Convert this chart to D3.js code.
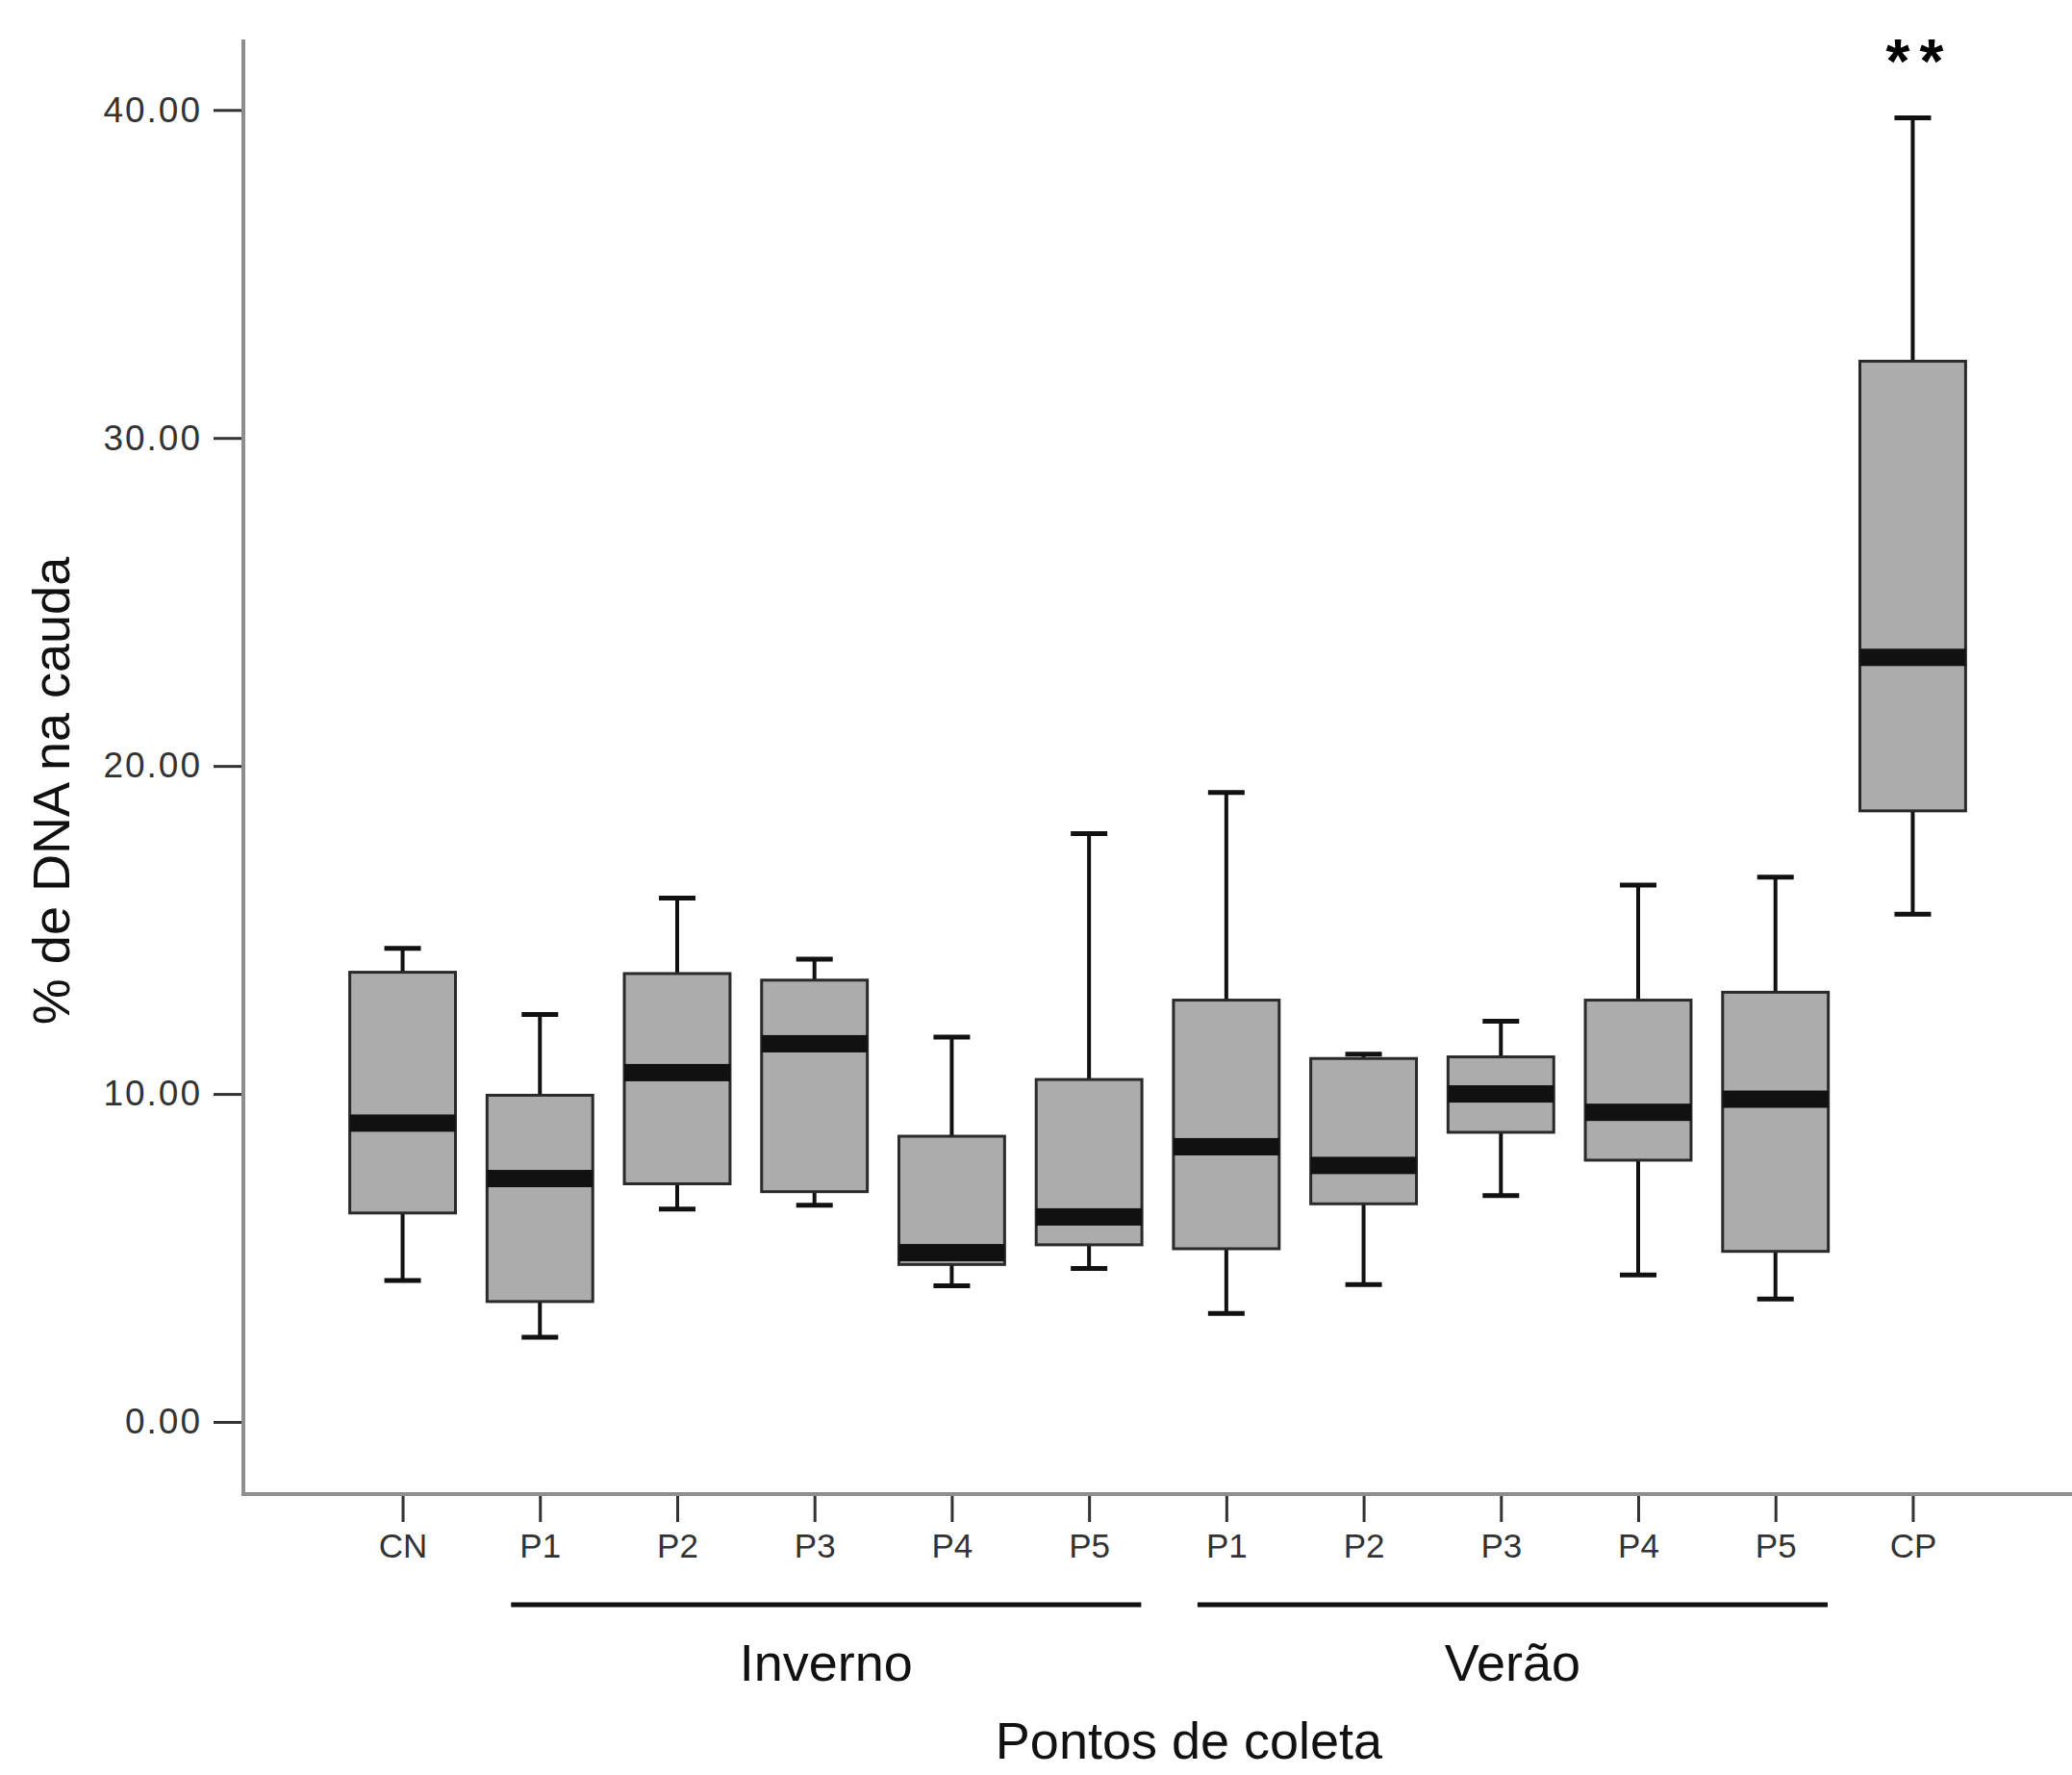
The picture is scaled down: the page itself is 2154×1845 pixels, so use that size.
<!DOCTYPE html>
<html>
<head>
<meta charset="utf-8">
<script src="https://cdn.jsdelivr.net/npm/d3@7"></script>
<style>
    body { margin: 0; background: #fff; }
    text { font-family: "Liberation Sans", Arial, sans-serif; }
</style>
</head>
<body>
<div id="box-chart"></div>
<script>

// categories (tick labels) and box plot statistics
const categories = ["CN", "P1", "P2", "P3", "P4", "P5", "P1", "P2", "P3", "P4", "P5", "CP"];
const whiskerLow  = [4.31, 2.58, 6.49, 6.61, 4.15, 4.68, 3.31, 4.19, 6.90, 4.48, 3.75, 15.48];
const q1          = [6.37, 3.67, 7.26, 7.02, 4.80, 5.40, 5.28, 6.65, 8.83, 7.98, 5.20, 18.63];
const medians     = [9.11, 7.42, 10.65, 11.53, 5.16, 6.25, 8.39, 7.82, 10.00, 9.44, 9.84, 23.31];
const q3          = [13.71, 9.96, 13.67, 13.47, 8.71, 10.44, 12.86, 11.08, 11.13, 12.86, 13.10, 32.34];
const whiskerHigh = [14.44, 12.42, 15.97, 14.11, 11.73, 17.94, 19.19, 11.21, 12.22, 16.37, 16.61, 39.76];

const yTicks = [0, 10, 20, 30, 40];

// season groups under the axis (index of first and last category)
const groupLabels = ["Inverno", "Verão"];
const groupStart = [1, 6];
const groupEnd = [5, 10];

const marked = "CP";   // significance mark


class BoxChart {

    constructor(parentElement) {
        this.parentElement = parentElement;
        this.displayData = [];

        this.initVis();
    }

    initVis() {
        let vis = this;

        vis.width = 2154;
        vis.height = 1845;
        vis.left = 253;
        vis.top = 41;
        vis.bottom = 1553;

        vis.svg = d3.select(`#${vis.parentElement}`).append("svg")
            .attr("width", vis.width)
            .attr("height", vis.height);

        // x positions: one point per category, ids keep duplicates apart
        vis.ids = categories.map((c, i) => i + "_" + c);
        vis.x = d3.scalePoint()
            .domain(vis.ids)
            .range([vis.left, vis.width])
            .padding(1.16);

        vis.y = d3.scaleLinear()
            .domain([-2.2, 42.15])
            .range([vis.bottom, vis.top]);

        vis.wrangleData();
    }

    wrangleData() {
        let vis = this;

        vis.displayData = vis.ids.map((id, i) => ({
            id: id,
            label: categories[i],
            lo: whiskerLow[i],
            q1: q1[i],
            med: medians[i],
            q3: q3[i],
            hi: whiskerHigh[i]
        }));

        vis.updateVis();
    }

    updateVis() {
        let vis = this;
        let boxW = vis.x.step() * 0.77;
        let capW = 38;

        // y axis
        let yAxis = d3.axisLeft(vis.y)
            .tickValues(yTicks)
            .tickFormat(d3.format(".2f"))
            .tickSize(31)
            .tickPadding(12);

        let gy = vis.svg.append("g")
            .attr("transform", "translate(" + vis.left + ",0)")
            .call(yAxis);
        gy.select(".domain").remove();
        gy.selectAll(".tick line").attr("stroke", "#333").attr("stroke-width", 3);
        gy.selectAll(".tick text")
            .attr("fill", "#333")
            .style("font-size", "37px")
            .style("letter-spacing", "2px");

        // x axis
        let xAxis = d3.axisBottom(vis.x)
            .tickFormat((d, i) => categories[i])
            .tickSize(29)
            .tickPadding(12);

        let gx = vis.svg.append("g")
            .attr("transform", "translate(0," + vis.bottom + ")")
            .call(xAxis);
        gx.select(".domain").remove();
        gx.selectAll(".tick line").attr("stroke", "#333").attr("stroke-width", 3);
        gx.selectAll(".tick text")
            .attr("fill", "#333")
            .style("font-size", "35px");

        // axis frame lines (left and bottom)
        vis.svg.append("path")
            .attr("d", `M${vis.left},${vis.top}V${vis.bottom}H${vis.width}`)
            .attr("fill", "none")
            .attr("stroke", "#8e8e8e")
            .attr("stroke-width", 4);

        let boxes = vis.svg.append("g")
            .selectAll("g")
            .data(vis.displayData)
            .join("g");

        // whiskers
        boxes.append("line")
            .attr("x1", d => vis.x(d.id))
            .attr("x2", d => vis.x(d.id))
            .attr("y1", d => vis.y(d.lo))
            .attr("y2", d => vis.y(d.hi))
            .attr("stroke", "#111")
            .attr("stroke-width", 4);

        boxes.selectAll(".cap")
            .data(d => [d.lo, d.hi].map(v => ({ id: d.id, v: v })))
            .join("line")
            .attr("class", "cap")
            .attr("x1", d => vis.x(d.id) - capW / 2)
            .attr("x2", d => vis.x(d.id) + capW / 2)
            .attr("y1", d => vis.y(d.v))
            .attr("y2", d => vis.y(d.v))
            .attr("stroke", "#111")
            .attr("stroke-width", 5);

        // boxes
        boxes.append("rect")
            .attr("x", d => vis.x(d.id) - boxW / 2)
            .attr("width", boxW)
            .attr("y", d => vis.y(d.q3))
            .attr("height", d => vis.y(d.q1) - vis.y(d.q3))
            .attr("fill", "#acacac")
            .attr("stroke", "#2a2a2a")
            .attr("stroke-width", 3);

        // median band
        boxes.append("rect")
            .attr("x", d => vis.x(d.id) - boxW / 2)
            .attr("width", boxW)
            .attr("y", d => vis.y(d.med) - 9)
            .attr("height", 18)
            .attr("fill", "#111");

        // significance mark
        let cp = vis.displayData.find(d => d.label === marked);
        vis.svg.append("text")
            .attr("x", vis.x(cp.id) + 7)
            .attr("y", 86)
            .attr("text-anchor", "middle")
            .style("font-size", "64px")
            .style("font-weight", "bold")
            .style("letter-spacing", "10px")
            .text("**");

        // season groups
        let step = vis.x.step();
        groupLabels.forEach((g, i) => {
            let x0 = vis.x(vis.ids[groupStart[i]]) - step * 0.21;
            let x1 = vis.x(vis.ids[groupEnd[i]]) + step * 0.38;
            vis.svg.append("line")
                .attr("x1", x0).attr("x2", x1)
                .attr("y1", 1668).attr("y2", 1668)
                .attr("stroke", "#111")
                .attr("stroke-width", 5);
            vis.svg.append("text")
                .attr("x", (x0 + x1) / 2)
                .attr("y", 1747)
                .attr("text-anchor", "middle")
                .attr("fill", "#111")
                .style("font-size", "54px")
                .text(g);
        });

        // axis titles
        vis.svg.append("text")
            .attr("x", 1236)
            .attr("y", 1828)
            .attr("text-anchor", "middle")
            .attr("fill", "#111")
            .style("font-size", "54px")
            .text("Pontos de coleta");

        vis.svg.append("text")
            .attr("transform", "translate(72,822) rotate(-90)")
            .attr("text-anchor", "middle")
            .attr("fill", "#111")
            .style("font-size", "54px")
            .text("% de DNA na cauda");
    }
}

new BoxChart("box-chart");
</script>
</body>
</html>
